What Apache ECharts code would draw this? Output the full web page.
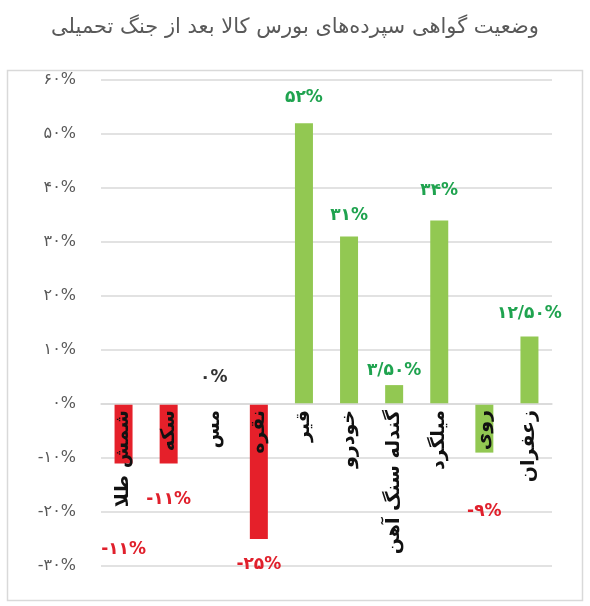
<!DOCTYPE html>
<html>
<head>
<meta charset="utf-8">
<script src="https://cdn.jsdelivr.net/npm/echarts@6/dist/echarts.min.js"></script>
<style>
html, body { margin: 0; padding: 0; background: #fff; }
#chart { width: 590px; height: 606px; }
</style>
</head>
<body>
<div id="chart"></div>
<script>
// data
var titleText = 'وضعیت گواهی سپرده‌های بورس کالا بعد از جنگ تحمیلی';
var categories = ['شمش طلا', 'سکه', 'مس', 'نقره', 'قیر', 'خودرو', 'گندله سنگ آهن', 'میلگرد', 'روی', 'زعفران'];
var changes = [-11, -11, 0, -25, 52, 31, 3.5, 34, -9, 12.5];
var yMin = -30, yMax = 60, yStep = 10;

// styling per bar (kept apart from the data)
var RED = '#e5202a', GREEN = '#92c852';
var barColors = [RED, RED, RED, RED, GREEN, GREEN, GREEN, GREEN, GREEN, GREEN];
var labelColors = ['#e0202c', '#e0202c', '#333333', '#e0202c', '#1fa34f', '#1fa34f', '#1fa34f', '#1fa34f', '#e0202c', '#1fa34f'];
var labelGap = [78, 28, 18, 17, 17, 13, 6, 21, 50, 14];

var FONT = 'DejaVu Sans';

function faDigits(s) {
	return String(s).replace(/[0-9]/g, function (d) { return '۰۱۲۳۴۵۶۷۸۹'[d]; });
}
function pct(v) {
	var s = Number.isInteger(v) ? String(v) : v.toFixed(2).replace('.', '/');
	return faDigits(s) + '%';
}

var dom = document.getElementById('chart');
var myChart = echarts.init(dom);

var barData = [];
for (var i = 0; i < changes.length; i++) {
	barData.push({
		value: changes[i],
		itemStyle: { color: barColors[i] },
		label: {
			position: changes[i] < 0 ? 'bottom' : 'top',
			distance: labelGap[i],
			color: labelColors[i]
		}
	});
}

var GRID_TOP = 80, GRID_BOTTOM = 40, CHART_H = 606;
// pixel distance from the grid bottom (yMin) up to the zero line
var zeroLift = (CHART_H - GRID_TOP - GRID_BOTTOM) * (0 - yMin) / (yMax - yMin);

var option = {
	animation: false,
	backgroundColor: '#fff',
	title: {
		text: titleText,
		left: 'center',
		top: 12,
		textStyle: { fontFamily: FONT, fontSize: 21, fontWeight: 'normal', color: '#595959' }
	},
	graphic: [{
		type: 'rect',
		left: 5,
		top: 68,
		shape: { width: 575, height: 530 },
		style: { fill: 'none', stroke: '#d9d9d9', lineWidth: 1.5 },
		silent: true
	}],
	grid: {
		left: 101, right: 38, top: GRID_TOP, bottom: GRID_BOTTOM,
		containLabel: false,
		outerBoundsMode: 'none'
	},
	xAxis: {
		type: 'category',
		data: categories,
		offset: -zeroLift,
		z: 10,
		axisLine: { onZero: false, lineStyle: { color: '#d9d9d9', width: 1.5 } },
		axisTick: { show: false },
		axisLabel: {
			rotate: 90,
			margin: 6,
			interval: 0,
			fontFamily: FONT,
			fontSize: 19,
			fontWeight: 'bold',
			color: '#111'
		}
	},
	yAxis: {
		type: 'value',
		min: yMin,
		max: yMax,
		interval: yStep,
		axisLine: { show: false },
		axisTick: { show: false },
		splitLine: { lineStyle: { color: '#d9d9d9', width: 1.5 } },
		axisLabel: {
			margin: 25,
			fontFamily: FONT,
			fontSize: 16,
			color: '#595959',
			formatter: function (v) { return pct(v); }
		}
	},
	series: [{
		type: 'bar',
		barWidth: 18,
		data: barData,
		label: {
			show: true,
			fontFamily: FONT,
			fontSize: 17,
			fontWeight: 'bold',
			formatter: function (p) { return pct(p.value); }
		}
	}]
};
myChart.setOption(option, true);
</script>
</body>
</html>
